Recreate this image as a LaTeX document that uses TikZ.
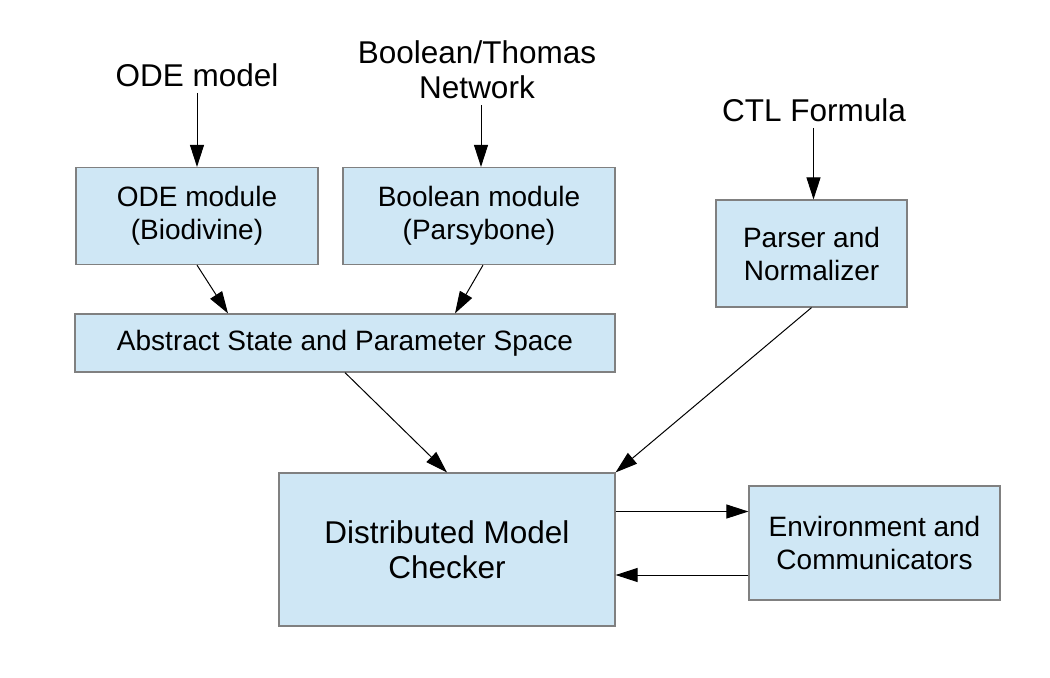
\documentclass[tikz,border=0pt]{standalone}
\usepackage{fontspec}
\setmainfont{Liberation Sans}
\usetikzlibrary{arrows.meta}
\definecolor{boxfill}{HTML}{CFE7F5}
\definecolor{boxline}{HTML}{808080}
\tikzset{
	modbox/.style={draw=boxline, fill=boxfill, line width=0.6pt, align=center, inner sep=0pt, font=\fontsize{14}{16.5}\selectfont},
	inlabel/.style={align=center, inner sep=3pt, font=\fontsize{15.75}{17.5}\selectfont},
	arr/.style={line width=0.5pt, -{Triangle[length=11pt, width=7pt]}},
}
\begin{document}
\begin{tikzpicture}[x=0.5pt, y=-0.5pt]
			\useasboundingbox (0,0) rectangle (1050,677);
			% inputs
			\node[inlabel] (odein) at (197,75) {ODE model};
			\node[inlabel] (boolin) at (477,70) {Boolean/Thomas\\Network};
			\node[inlabel] (ctlin) at (814,110) {CTL Formula};
			% modules
			\node[modbox, minimum width=121pt, minimum height=48.5pt] (ode) at (197,216) {ODE module\\(Biodivine)};
			\node[modbox, minimum width=136pt, minimum height=48.5pt] (bool) at (479,216) {Boolean module\\(Parsybone)};
			\node[modbox, minimum width=95.5pt, minimum height=53.5pt] (parser) at (811.5,253.5) {Parser and\\Normalizer};
			\node[modbox, minimum width=270pt, minimum height=29pt] (space) at (345,343) {Abstract State and Parameter Space};
			\node[modbox, minimum width=168pt, minimum height=76.5pt, font=\fontsize{15.75}{17.5}\selectfont] (dmc) at (447,549.5) {Distributed Model\\Checker};
			\node[modbox, minimum width=125.5pt, minimum height=57pt] (env) at (874.5,543) {Environment and\\Communicators};
			% connectors
			\draw[arr] (ode.north |- odein.south) -- (ode.north);
			\draw[arr] ([xshift=1pt]bool.north |- boolin.south) -- ([xshift=1pt]bool.north);
			\draw[arr] ([xshift=1pt]parser.north |- ctlin.south) -- ([xshift=1pt]parser.north);
			\draw[arr] (ode.south) -- ([xshift=-58.5pt]space.north);
			\draw[arr] ([xshift=2pt]bool.south) -- ([xshift=55pt]space.north);
			\draw[arr] (space.south) -- (dmc.north);
			\draw[arr] (parser.south) -- (dmc.north east);
			\draw[arr] ([yshift=19pt]dmc.east) -- ([yshift=19pt]dmc.east -| env.west);
			\draw[arr] ([yshift=-12.75pt]dmc.east -| env.west) -- ([yshift=-12.75pt]dmc.east);
		\end{tikzpicture}
\end{document}
